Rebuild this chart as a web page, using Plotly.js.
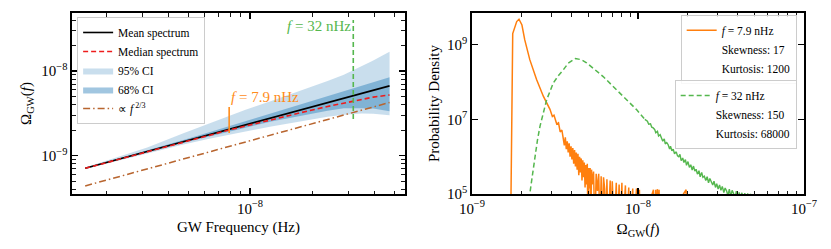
<!DOCTYPE html>
<html><head><meta charset="utf-8">
<script src="https://cdn.plot.ly/plotly-3.0.1.min.js"></script>
<style>html,body{margin:0;padding:0;background:#fff}#chart{width:831px;height:249px}</style>
</head><body><div id="chart"></div>
<script>
// ---------- Left panel: spectrum vs GW frequency ----------
const freq = [1.585e-9, 3.17e-9, 4.75e-9, 6.34e-9, 7.92e-9, 9.51e-9, 1.268e-8, 1.585e-8, 1.902e-8, 2.378e-8, 2.853e-8, 3.17e-8, 3.487e-8, 3.963e-8, 4.438e-8, 4.755e-8];
const meanSpec = [7.1e-10, 1.12e-9, 1.47e-9, 1.78e-9, 2.06e-9, 2.32e-9, 2.81e-9, 3.25e-9, 3.66e-9, 4.24e-9, 4.77e-9, 5.11e-9, 5.44e-9, 5.92e-9, 6.38e-9, 6.68e-9];
const medianSpec = [7.1e-10, 1.117e-9, 1.455e-9, 1.753e-9, 2.009e-9, 2.239e-9, 2.67e-9, 3.039e-9, 3.367e-9, 3.816e-9, 4.198e-9, 4.446e-9, 4.651e-9, 4.914e-9, 5.104e-9, 5.21e-9];
const ci95High = [7.24e-10, 1.254e-9, 1.838e-9, 2.403e-9, 2.987e-9, 3.48e-9, 4.44e-9, 5.36e-9, 6.30e-9, 7.63e-9, 9.06e-9, 1.022e-8, 1.142e-8, 1.332e-8, 1.544e-8, 1.683e-8];
const ci95Low = [6.96e-10, 1.064e-9, 1.352e-9, 1.584e-9, 1.772e-9, 1.926e-9, 2.22e-9, 2.438e-9, 2.635e-9, 2.883e-9, 3.053e-9, 3.117e-9, 3.155e-9, 3.138e-9, 3.062e-9, 3.006e-9];
const ci68High = [7.14e-10, 1.142e-9, 1.529e-9, 1.887e-9, 2.225e-9, 2.552e-9, 3.175e-9, 3.77e-9, 4.319e-9, 5.13e-9, 5.867e-9, 6.336e-9, 6.80e-9, 7.459e-9, 8.039e-9, 8.417e-9];
const ci68Low = [7.06e-10, 1.103e-9, 1.426e-9, 1.70e-9, 1.936e-9, 2.146e-9, 2.529e-9, 2.828e-9, 3.074e-9, 3.392e-9, 3.625e-9, 3.65e-9, 3.645e-9, 3.611e-9, 3.445e-9, 3.34e-9];
const powerLawRef = [4.40e-10, 6.98e-10, 9.15e-10, 1.109e-9, 1.287e-9, 1.453e-9, 1.76e-9, 2.042e-9, 2.306e-9, 2.676e-9, 3.022e-9, 3.242e-9, 3.454e-9, 3.762e-9, 4.057e-9, 4.248e-9];
// marked frequencies
const markFreq = [7.92e-9, 3.17e-8];
const markLow = [1.85e-9, 2.71e-9];
const markHigh = [3.76e-9, 4.0e-8];
const markLabel = ['<i>f</i> = 7.9 nHz', '<i>f</i> = 32 nHz'];

// ---------- Right panel: probability densities ----------
const omegaA = [1.70e-9, 1.74e-9, 1.76e-9, 1.86e-9, 1.92e-9, 2.00e-9, 2.08e-9, 2.23e-9, 2.45e-9, 2.69e-9, 2.95e-9, 3.05e-9, 3.12e-9, 3.24e-9, 3.32e-9, 3.40e-9, 3.48e-9, 3.55e-9,
  3.60e-9, 3.65e-9, 3.70e-9, 3.75e-9, 3.80e-9, 3.85e-9, 3.90e-9, 3.95e-9, 4.00e-9, 4.05e-9, 4.10e-9, 4.15e-9, 4.20e-9, 4.25e-9, 4.30e-9, 4.35e-9, 4.40e-9, 4.45e-9, 4.50e-9, 4.55e-9,
  4.60e-9, 4.65e-9, 4.70e-9, 4.75e-9, 4.80e-9, 4.85e-9, 4.90e-9, 4.95e-9, 5.00e-9, 5.05e-9, 5.10e-9, 5.15e-9, 5.20e-9, 5.25e-9, 5.30e-9, 5.40e-9, 5.50e-9, 5.60e-9, 5.70e-9, 5.80e-9,
  5.90e-9, 6.00e-9, 6.10e-9, 6.20e-9, 6.30e-9, 6.40e-9, 6.50e-9, 6.60e-9, 6.80e-9, 6.90e-9, 7.00e-9, 7.20e-9, 7.40e-9, 7.50e-9, 7.70e-9, 7.80e-9, 8.00e-9, 8.10e-9, 8.40e-9, 8.50e-9,
  8.80e-9, 8.90e-9, 9.30e-9, 9.40e-9, 9.80e-9, 9.90e-9, 1.02e-8, 1.03e-8, 1.24e-8, 1.25e-8, 1.28e-8, 1.29e-8, 1.31e-8, 1.32e-8, 1.34e-8, 1.35e-8, 1.95e-8, 1.96e-8];
const pdfA = [1e3, 1e7, 2.0e9, 4.2e9, 4.85e9, 3.4e9, 1.35e9, 4.0e8, 1.17e8, 4.2e7, 1.86e7, 1.2e7, 1.3e7, 7.5e6, 8.1e6, 4.6e6, 5.2e6, 3.0e6,
  2.0e6, 3.3e6, 1.6e6, 2.6e6, 1.3e6, 2.3e6, 1.0e6, 1.9e6, 8.5e5, 1.7e6, 6.5e5, 1.5e6, 5.5e5, 1.3e6, 4.5e5, 1.2e6, 3.2e5, 1.0e6, 3.8e5, 9.0e5,
  2.3e5, 8.0e5, 2.8e5, 7.0e5, 1.5e5, 6.0e5, 1.8e5, 6.5e5, 1e4, 5.0e5, 1.4e5, 5.0e5, 1e4, 4.5e5, 1.8e5, 4.0e5, 1e4, 3.5e5, 1.2e5, 3.5e5,
  1e4, 3.0e5, 1e4, 2.8e5, 1.4e5, 1e4, 2.5e5, 1e4, 2.3e5, 1e4, 2.2e5, 1e4, 2.0e5, 1e4, 1.8e5, 1e4, 2.0e5, 1e4, 1.7e5, 1e4,
  1.5e5, 1e4, 1.4e5, 1e4, 1.4e5, 1e4, 1.3e5, 1e4, 1.3e5, 1e4, 1.3e5, 1e4, 1.35e5, 1e4, 1.3e5, 1e4, 1.3e5, 1e4];
const omegaB = [2.20e-9, 2.23e-9, 2.32e-9, 2.40e-9, 2.48e-9, 2.57e-9, 2.70e-9, 2.82e-9, 3.09e-9, 3.31e-9, 3.55e-9, 3.80e-9, 4.20e-9, 4.55e-9, 4.90e-9, 5.50e-9, 6.17e-9, 6.92e-9, 7.76e-9, 8.71e-9, 9.77e-9, 1.10e-8];
const pdfB = [1e4, 1e5, 3.5e5, 1.05e6, 2.8e6, 6.6e6, 1.55e7, 3.4e7, 9.5e7, 1.48e8, 2.14e8, 3.2e8, 4.3e8, 4.0e8, 3.3e8, 2.2e8, 1.41e8, 8.5e7, 5.1e7, 3.1e7, 1.86e7, 1.0e7];
const omegaBTail = [1.10e-8, 1.14e-8, 1.16e-8, 1.19e-8, 1.21e-8, 1.23e-8, 1.26e-8, 1.28e-8, 1.31e-8, 1.33e-8, 1.36e-8, 1.38e-8, 1.41e-8, 1.44e-8, 1.46e-8, 1.49e-8, 1.52e-8, 1.55e-8, 1.57e-8, 1.60e-8, 1.63e-8, 1.66e-8,
  1.70e-8, 1.73e-8, 1.76e-8, 1.79e-8, 1.82e-8, 1.86e-8, 1.89e-8, 1.93e-8, 1.96e-8, 2.00e-8, 2.04e-8, 2.08e-8, 2.12e-8, 2.16e-8, 2.20e-8, 2.24e-8, 2.28e-8, 2.33e-8, 2.37e-8, 2.42e-8,
  2.46e-8, 2.51e-8, 2.56e-8, 2.61e-8, 2.66e-8, 2.71e-8, 2.76e-8, 2.82e-8, 2.87e-8, 2.93e-8, 2.98e-8, 3.04e-8, 3.10e-8, 3.16e-8, 3.22e-8, 3.29e-8, 3.35e-8, 3.42e-8, 3.48e-8, 3.55e-8,
  3.62e-8, 3.69e-8, 3.76e-8, 3.84e-8, 3.91e-8, 3.99e-8, 4.07e-8, 4.15e-8, 4.23e-8, 4.31e-8, 4.40e-8, 4.49e-8, 4.58e-8, 4.67e-8, 4.76e-8, 4.85e-8, 4.95e-8];
const pdfBTail = [1.0e7, 8.9e6, 7.4e6, 7.6e6, 6.2e6, 6.0e6, 5.4e6, 4.4e6, 4.8e6, 3.6e6, 3.9e6, 3.3e6, 2.6e6, 3.0e6, 2.2e6, 2.4e6, 2.1e6, 1.6e6, 1.9e6, 1.45e6, 1.6e6, 1.2e6,
  1.35e6, 1.05e6, 1.0e6, 1.15e6, 7.8e5, 9.2e5, 7.0e5, 8.4e5, 5.9e5, 7.4e5, 5.2e5, 6.1e5, 4.4e5, 5.6e5, 4.1e5, 4.6e5, 3.4e5, 4.2e5, 2.9e5, 3.8e5,
  2.8e5, 3.0e5, 2.3e5, 2.9e5, 2.0e5, 2.6e5, 2.1e5, 1.75e5, 2.2e5, 1.5e5, 1.9e5, 1.35e5, 1.75e5, 1.25e5, 1.6e5, 1.1e5, 1.45e5, 1.2e5, 9.0e4, 1.35e5,
  8.5e4, 1.25e5, 1.05e5, 7.0e4, 1.2e5, 6.0e4, 1.1e5, 8.0e4, 1.08e5, 4.0e4, 1.06e5, 5.0e4, 1.04e5, 2.0e4, 1.02e5, 3.0e4, 1e4];
const statsA = ['Skewness: 17', 'Kurtosis: 1200'];
const statsB = ['Skewness: 150', 'Kurtosis: 68000'];

// tick labels
const leftXTicks = [1e-8], leftXText = ['10<sup>−8</sup>'];
const leftYTicks = [1e-9, 1e-8], leftYText = ['10<sup>−9</sup>', '10<sup>−8</sup>'];
const rightXTicks = [1e-9, 1e-8, 1e-7], rightXText = ['10<sup>−9</sup>', '10<sup>−8</sup>', '10<sup>−7</sup>'];
const rightYTicks = [1e5, 1e7, 1e9], rightYText = ['10<sup>5</sup>', '10<sup>7</sup>', '10<sup>9</sup>'];
const leftXMinor = [2e-9,3e-9,4e-9,5e-9,6e-9,7e-9,8e-9,9e-9,2e-8,3e-8,4e-8,5e-8];
const leftYMinor = [4e-10,5e-10,6e-10,7e-10,8e-10,9e-10,2e-9,3e-9,4e-9,5e-9,6e-9,7e-9,8e-9,9e-9,2e-8,3e-8,4e-8];
const rightXMinor = [2e-9,3e-9,4e-9,5e-9,6e-9,7e-9,8e-9,9e-9,2e-8,3e-8,4e-8,5e-8,6e-8,7e-8,8e-8,9e-8];

const FONT = 'Liberation Serif';
const rev = a => a.slice().reverse();
const GREEN = '#55b74e', ORANGE = '#ff7f0e';

const traces = [
  {x: freq.concat(rev(freq)), y: ci95High.concat(rev(ci95Low)), fill: 'toself', mode: 'lines',
   line: {width: 0}, fillcolor: 'rgba(31,119,180,0.24)', name: '95% CI', legendrank: 3, xaxis: 'x', yaxis: 'y', hoverinfo: 'skip'},
  {x: freq.concat(rev(freq)), y: ci68High.concat(rev(ci68Low)), fill: 'toself', mode: 'lines',
   line: {width: 0}, fillcolor: 'rgba(31,119,180,0.42)', name: '68% CI', legendrank: 4, xaxis: 'x', yaxis: 'y', hoverinfo: 'skip'},
  {x: freq, y: powerLawRef, mode: 'lines', line: {color: '#b8652f', width: 1.5, dash: '7px,3px,1.5px,3px'},
   name: '∝ <i>f</i><sup> 2/3</sup>', legendrank: 5, xaxis: 'x', yaxis: 'y'},
  {x: freq, y: meanSpec, mode: 'lines', line: {color: 'black', width: 1.6}, name: 'Mean spectrum', legendrank: 1, xaxis: 'x', yaxis: 'y'},
  {x: freq, y: medianSpec, mode: 'lines', line: {color: '#ee1c1c', width: 1.6, dash: '5px,3px'}, name: 'Median spectrum', legendrank: 2, xaxis: 'x', yaxis: 'y'},
  {x: [markFreq[0], markFreq[0]], y: [markLow[0], markHigh[0]], mode: 'lines', line: {color: '#ff8c1a', width: 1.6}, showlegend: false, xaxis: 'x', yaxis: 'y'},
  {x: [markFreq[1], markFreq[1]], y: [markLow[1], markHigh[1]], mode: 'lines', line: {color: GREEN, width: 1.6, dash: '5px,3px'}, showlegend: false, xaxis: 'x', yaxis: 'y'},

  {x: omegaA, y: pdfA, mode: 'lines', line: {color: ORANGE, width: 1.5}, name: '<i>f</i> = 7.9 nHz', legend: 'legend2', legendrank: 1, xaxis: 'x2', yaxis: 'y2'},
  {x: [null], y: [null], mode: 'lines', line: {width: 0, color: 'rgba(0,0,0,0)'}, name: statsA[0], legend: 'legend2', legendrank: 2, xaxis: 'x2', yaxis: 'y2'},
  {x: [null], y: [null], mode: 'lines', line: {width: 0, color: 'rgba(0,0,0,0)'}, name: statsA[1], legend: 'legend2', legendrank: 3, xaxis: 'x2', yaxis: 'y2'},
  {x: omegaB, y: pdfB, mode: 'lines', line: {color: GREEN, width: 1.5, dash: '5px,3px'}, name: '<i>f</i> = 32 nHz', legend: 'legend3', legendrank: 1, xaxis: 'x2', yaxis: 'y2'},
  {x: omegaBTail, y: pdfBTail, mode: 'lines', line: {color: GREEN, width: 1.4}, showlegend: false, xaxis: 'x2', yaxis: 'y2'},
  {x: [null], y: [null], mode: 'lines', line: {width: 0, color: 'rgba(0,0,0,0)'}, name: statsB[0], legend: 'legend3', legendrank: 2, xaxis: 'x2', yaxis: 'y2'},
  {x: [null], y: [null], mode: 'lines', line: {width: 0, color: 'rgba(0,0,0,0)'}, name: statsB[1], legend: 'legend3', legendrank: 3, xaxis: 'x2', yaxis: 'y2'},
  // carriers for the mirrored tick axes (top / right)
  {x: [null], y: [null], mode: 'lines', showlegend: false, xaxis: 'x3', yaxis: 'y3'},
  {x: [null], y: [null], mode: 'lines', showlegend: false, xaxis: 'x4', yaxis: 'y4'}
];

const axisBase = {
  type: 'log', showgrid: false, zeroline: false, showline: true, linecolor: 'black', linewidth: 1.6,
  mirror: true, ticks: 'inside', ticklen: 6, tickwidth: 1.1, tickcolor: 'black',
  tickfont: {family: FONT, size: 15, color: 'black'}, tickmode: 'array'
};
const minorBase = {ticks: 'inside', ticklen: 3.5, tickwidth: 0.9, tickcolor: 'black', showgrid: false};
const mirrorBase = {type: 'log', showgrid: false, zeroline: false, showline: false, showticklabels: false,
  ticks: 'inside', ticklen: 6, tickwidth: 1.1, tickcolor: 'black', tickmode: 'array'};
const legendBase = {bgcolor: 'rgba(255,255,255,0.85)', bordercolor: '#cccccc', borderwidth: 1,
  font: {family: FONT, size: 11.5, color: 'black'}, traceorder: 'normal', tracegroupgap: 0};

const layout = {
  width: 831, height: 249, margin: {l: 72, r: 27, t: 13, b: 55},
  paper_bgcolor: 'white', plot_bgcolor: 'white', showlegend: true,
  font: {family: FONT, color: 'black'},
  xaxis: Object.assign({}, axisBase, {domain: [0, 0.4549], range: [-8.864, -7.248], anchor: 'y',
    tickvals: leftXTicks, ticktext: leftXText, minor: Object.assign({tickvals: leftXMinor}, minorBase),
    title: {text: 'GW Frequency (Hz)', font: {family: FONT, size: 15}, standoff: 6}}),
  yaxis: Object.assign({}, axisBase, {range: [-9.452, -7.315], anchor: 'x',
    tickvals: leftYTicks, ticktext: leftYText, minor: Object.assign({tickvals: leftYMinor}, minorBase),
    title: {text: 'Ω<sub>GW</sub>(<i>f</i>)', font: {family: FONT, size: 15}, standoff: 6}}),
  xaxis2: Object.assign({}, axisBase, {domain: [0.5464, 1], range: [-9, -7], anchor: 'y2',
    tickvals: rightXTicks, ticktext: rightXText, minor: Object.assign({tickvals: rightXMinor}, minorBase),
    title: {text: 'Ω<sub>GW</sub>(<i>f</i>)', font: {family: FONT, size: 15}, standoff: 8}}),
  yaxis2: Object.assign({}, axisBase, {range: [5, 9.853], anchor: 'x2',
    tickvals: rightYTicks, ticktext: rightYText,
    title: {text: 'Probability Density', font: {family: FONT, size: 15}, standoff: 4}}),
  xaxis3: Object.assign({}, mirrorBase, {overlaying: 'x', side: 'top', anchor: 'y3', range: [-8.864, -7.248],
    tickvals: leftXTicks, minor: Object.assign({tickvals: leftXMinor}, minorBase)}),
  yaxis3: Object.assign({}, mirrorBase, {overlaying: 'y', side: 'right', anchor: 'x3', range: [-9.452, -7.315],
    tickvals: leftYTicks, minor: Object.assign({tickvals: leftYMinor}, minorBase)}),
  xaxis4: Object.assign({}, mirrorBase, {overlaying: 'x2', side: 'top', anchor: 'y4', range: [-9, -7],
    tickvals: rightXTicks, minor: Object.assign({tickvals: rightXMinor}, minorBase)}),
  yaxis4: Object.assign({}, mirrorBase, {overlaying: 'y2', side: 'right', anchor: 'x4', range: [5, 9.853],
    tickvals: rightYTicks}),
  legend: Object.assign({}, legendBase, {x: 0.007, y: 0.978, xanchor: 'left', yanchor: 'top'}),
  legend2: Object.assign({}, legendBase, {x: 0.99, y: 0.99, xanchor: 'right', yanchor: 'top'}),
  legend3: Object.assign({}, legendBase, {x: 0.99, y: 0.63, xanchor: 'right', yanchor: 'top'}),
  annotations: [
    {x: Math.log10(markFreq[0]), y: Math.log10(markHigh[0]), xref: 'x', yref: 'y', text: markLabel[0], showarrow: false,
     xanchor: 'left', yanchor: 'bottom', font: {family: FONT, size: 15, color: '#ff8c1a'}},
    {x: Math.log10(markFreq[1]), y: Math.log10(markHigh[1]) - 0.07, xref: 'x', yref: 'y', text: markLabel[1], showarrow: false,
     xanchor: 'right', yanchor: 'middle', font: {family: FONT, size: 15, color: GREEN}}
  ]
};

Plotly.newPlot('chart', traces, layout, {staticPlot: true, displayModeBar: false});
</script>
</body></html>
